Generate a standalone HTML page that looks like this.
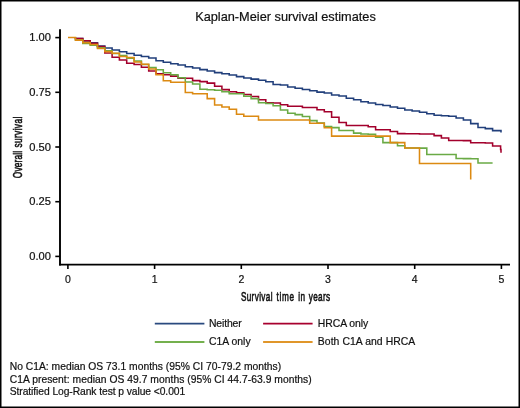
<!DOCTYPE html>
<html><head><meta charset="utf-8"><style>
html,body{margin:0;padding:0;background:#fff;}
body{width:520px;height:408px;overflow:hidden;}
svg{display:block;will-change:transform;}
text{font-family:"Liberation Sans",sans-serif;fill:#111;stroke:#111;stroke-width:0.2px;}
.tk{font-size:10.5px;}
.ft{font-size:10.3px;}
.lg{font-size:10.4px;}
.ax line{stroke:#000;stroke-width:1.6;}
.cv path{fill:none;stroke-width:1.55;stroke-linejoin:miter;stroke-linecap:butt;}
</style></head><body>
<svg width="520" height="408" viewBox="0 0 520 408">
<rect x="0" y="0" width="520" height="408" fill="#fff"/>
<text x="285.5" y="20.9" text-anchor="middle" style="font-size:12.75px">Kaplan-Meier survival estimates</text>
<g class="cv">
<path d="M75.5,37.6H75.5V38.6H82.8V40.9H90.2V42.8H97.5V46.1H104.8V48.0H112.1V50.0H119.4V51.8H126.7V53.4H134.1V55.3H141.4V56.5H148.7V58.0H156.0V60.7H163.3V62.2H170.7V63.8H178.0V64.9H185.3V66.7H192.6V67.9H199.9V69.6H207.2V71.0H214.6V72.6H221.9V73.7H229.2V75.0H236.5V76.6H243.8V78.0H251.1V79.1H258.5V80.3H265.8V81.7H273.1V84.4H280.4V85.0H287.7V86.9H295.1V88.3H302.4V89.5H309.7V90.8H317.0V92.1H324.3V92.9H331.6V94.9H339.0V96.0H346.3V98.3H353.6V99.7H360.9V101.7H368.2V103.0H375.6V104.4H382.9V105.5H390.2V106.9H397.5V108.3H404.8V109.9H412.1V111.0H419.5V112.3H426.8V113.7H434.1V115.3H441.4V115.8H448.7V116.3H456.1V117.9H463.4V120.0H470.7V123.6H478.0V127.4H485.3V128.6H492.6V130.6H501.0V132.4H501.0" stroke="#213f7b"/>
<path d="M75.5,37.6H75.5V38.4H82.8V40.7H90.2V43.3H97.5V46.4H104.8V53.0H112.1V57.2H119.4V60.0H126.7V63.3H134.1V64.5H141.4V67.2H148.7V70.9H156.0V73.8H163.3V74.7H170.7V76.1H178.0V78.1H185.3V78.2H192.6V80.6H199.9V81.6H207.2V83.1H214.6V86.2H221.9V89.6H229.2V91.7H236.5V92.8H243.8V94.4H251.1V96.5H258.5V99.7H265.8V102.8H273.1V103.0H280.4V104.8H287.7V106.3H295.1H302.4V107.4H309.7H317.0V109.8H324.3V111.8H331.6V117.2H339.0V122.5H346.3V125.4H353.6H360.9H368.2V126.8H375.6V129.8H382.9H390.2V131.4H397.5V133.6H404.8V133.7H412.1V133.8H419.5V133.9H426.8H434.1V135.6H441.4V137.9H448.7V140.4H456.1V140.5H463.4V140.6H470.7V142.8H478.0H485.3V142.9H492.6V145.9H500.6V149.5H501.0V152.8H501.0" stroke="#a3002c"/>
<path d="M75.5,37.6H75.5V40.0H82.8V43.4H90.2V45.1H97.5V47.7H104.8V50.7H112.1V53.5H119.4V55.6H126.7V58.3H134.1V60.9H141.4V64.4H148.7V67.5H156.0V69.8H163.3V72.7H170.7V74.8H178.0V77.8H185.3V81.9H192.6V84.0H199.9V89.3H207.2V89.8H214.6V90.3H221.9V91.7H229.2V93.7H236.5H243.8V96.2H251.1V98.6H258.5V102.8H265.8V103.5H273.1V105.7H280.4V109.9H287.7V113.3H295.1V114.6H302.4V116.5H309.7V120.6H317.0V123.0H324.3V126.4H331.6V127.6H339.0V130.4H346.3H353.6V133.1H360.9V134.0H368.2V134.3H375.6V137.1H382.9V142.6H390.2H397.5V145.8H404.8V148.0H412.1H419.5V148.1H426.8V154.5H434.1H441.4H448.7H456.1V158.5H463.4V158.6H470.7V158.7H478.0V162.9H485.3H492.6" stroke="#6aaa45"/>
<path d="M68.0,37.5H75.5V40.1H82.8V42.6H90.2V44.5H97.5V48.5H104.8V51.6H112.1V53.2H119.4V56.4H126.7V57.4H134.1V61.9H141.4V64.2H148.7V69.0H156.0V74.7H163.3V80.8H170.7V82.3H178.0H185.3V92.4H192.6V93.8H199.9H207.2V98.6H214.6V105.0H221.9V106.9H229.2V109.3H236.5V114.2H243.8V116.2H251.1H258.5V119.9H265.8H273.1H280.4H287.7H295.1H302.4H309.7V123.3H317.0H324.3V127.8H331.6V136.1H339.0H346.3H353.6H360.9H368.2H375.6H382.9H390.2V142.6H397.5H404.8V147.9H412.1H419.5V163.5H426.8H434.1H441.4H448.7H456.1H463.4H470.7V179.5H470.7" stroke="#dc8a12"/>
</g>
<g class="ax">
<line x1="60" x2="60" y1="29.2" y2="265.5" style="stroke-width:1.9"/>
<line x1="59.1" x2="510" y1="264.7" y2="264.7" style="stroke-width:1.8"/>
<line x1="55.3" x2="60" y1="37.6" y2="37.6"/>
<text x="50.9" y="41.2" text-anchor="end" class="tk" textLength="21.7" lengthAdjust="spacingAndGlyphs">1.00</text>
<line x1="55.3" x2="60" y1="92.3" y2="92.3"/>
<text x="50.9" y="95.9" text-anchor="end" class="tk" textLength="21.7" lengthAdjust="spacingAndGlyphs">0.75</text>
<line x1="55.3" x2="60" y1="147.0" y2="147.0"/>
<text x="50.9" y="150.6" text-anchor="end" class="tk" textLength="21.7" lengthAdjust="spacingAndGlyphs">0.50</text>
<line x1="55.3" x2="60" y1="201.7" y2="201.7"/>
<text x="50.9" y="205.3" text-anchor="end" class="tk" textLength="21.7" lengthAdjust="spacingAndGlyphs">0.25</text>
<line x1="55.3" x2="60" y1="256.4" y2="256.4"/>
<text x="50.9" y="260.0" text-anchor="end" class="tk" textLength="21.7" lengthAdjust="spacingAndGlyphs">0.00</text>
<line x1="67.9" x2="67.9" y1="265" y2="269"/>
<text x="67.9" y="282.6" text-anchor="middle" class="tk">0</text>
<line x1="154.6" x2="154.6" y1="265" y2="269"/>
<text x="154.6" y="282.6" text-anchor="middle" class="tk">1</text>
<line x1="241.3" x2="241.3" y1="265" y2="269"/>
<text x="241.3" y="282.6" text-anchor="middle" class="tk">2</text>
<line x1="328.0" x2="328.0" y1="265" y2="269"/>
<text x="328.0" y="282.6" text-anchor="middle" class="tk">3</text>
<line x1="414.7" x2="414.7" y1="265" y2="269"/>
<text x="414.7" y="282.6" text-anchor="middle" class="tk">4</text>
<line x1="501.4" x2="501.4" y1="265" y2="269"/>
<text x="501.4" y="282.6" text-anchor="middle" class="tk">5</text>
</g>
<g transform="translate(0,301.4) scale(0.620,1)" style="font-size:13.2px;stroke:#111;stroke-width:0.8">
<text x="388.55" y="0" textLength="50.97" lengthAdjust="spacing" style="stroke-width:0.60px">Survival</text>
<text x="445.97" y="0" textLength="28.39" lengthAdjust="spacing" style="stroke-width:0.60px">time</text>
<text x="480.97" y="0" textLength="11.13" lengthAdjust="spacing" style="stroke-width:0.60px">in</text>
<text x="498.06" y="0" textLength="34.35" lengthAdjust="spacing" style="stroke-width:0.60px">years</text>
</g>
<g transform="translate(21.8,178.2) rotate(-90) scale(0.620,1)" style="font-size:13.5px;stroke:#111;stroke-width:0.8">
<text x="0.00" y="0" textLength="43.87" lengthAdjust="spacing" style="stroke-width:0.60px">Overall</text>
<text x="49.35" y="0" textLength="49.84" lengthAdjust="spacing" style="stroke-width:0.60px">survival</text>
</g>
<g style="stroke-width:1.8">
<line x1="154.8" x2="204.4" y1="323.6" y2="323.6" stroke="#2a4a7f"/>
<line x1="263.1" x2="312.6" y1="323.6" y2="323.6" stroke="#a8002f"/>
<line x1="154.8" x2="204.4" y1="342" y2="342" stroke="#74b04e"/>
<line x1="263.1" x2="312.6" y1="342" y2="342" stroke="#e0962a"/>
</g>
<text x="209" y="327" class="lg" textLength="32.6">Neither</text>
<text x="317.8" y="327" class="lg" textLength="50.3">HRCA only</text>
<text x="209" y="345.4" class="lg">C1A only</text>
<text x="317.8" y="345.4" class="lg" textLength="97.5">Both C1A and HRCA</text>
<text x="9.7" y="369.9" class="ft" textLength="271.5">No C1A: median OS 73.1 months (95% CI 70-79.2 months)</text>
<text x="9.7" y="382.8" class="ft" textLength="302">C1A present: median OS 49.7 months (95% CI 44.7-63.9 months)</text>
<text x="9.7" y="395.1" class="ft" textLength="175.5">Stratified Log-Rank test p value &lt;0.001</text>
<rect x="0.75" y="0.75" width="518.5" height="406.5" fill="none" stroke="#000" stroke-width="1.5"/>
</svg>
</body></html>
